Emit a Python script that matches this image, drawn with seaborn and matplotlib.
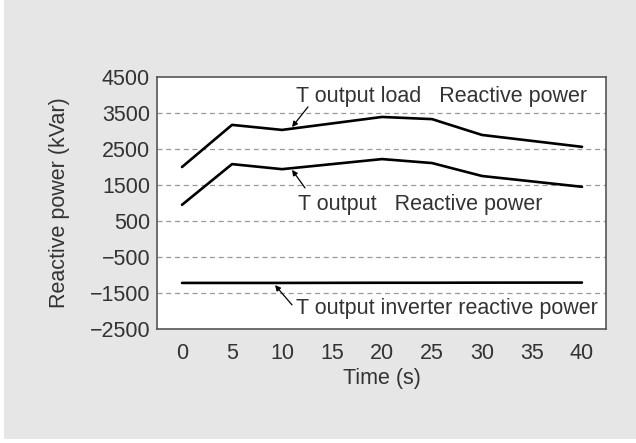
import numpy as np
import pandas as pd
import seaborn as sns
import matplotlib.pyplot as plt
from matplotlib.patches import Rectangle

time_s = [0, 5, 10, 20, 25, 30, 40]
load_q = [2000, 3170, 3030, 3390, 3330, 2890, 2560]
output_q = [950, 2080, 1940, 2220, 2110, 1750, 1450]
inverter_q = [-1220, -1220, -1220, -1215, -1215, -1212, -1210]

df = pd.DataFrame({
    "t": time_s * 3,
    "q": load_q + output_q + inverter_q,
    "series": ["load"] * 7 + ["output"] * 7 + ["inverter"] * 7,
})

sns.set_style("white")
plt.rcParams['font.family'] = ['Liberation Sans', 'DejaVu Sans']
fs = 15.5

fig = plt.figure(figsize=(6.36, 4.43), dpi=100, facecolor="white")
fig.patches.append(Rectangle((4 / 636, 0.01), 1, 1, transform=fig.transFigure,
                             facecolor="#e6e6e6", edgecolor="none", zorder=-1))
ax = fig.add_axes([0.2469, 0.2573, 0.7059, 0.5689])

sns.lineplot(data=df, x="t", y="q", units="series", estimator=None,
             color="black", linewidth=1.9, ax=ax, legend=False)

ax.set_xlim(-2.5, 42.4)
ax.set_ylim(-2500, 4500)
ax.set_yticks(np.arange(-2500, 4501, 1000))
ax.set_xticks(np.arange(0, 41, 5))
ax.set_xticks(np.arange(2.5, 40, 5), minor=True)
ax.tick_params(axis="x", which="major", length=0, labelsize=fs, colors="#333333", pad=10)
ax.tick_params(axis="x", which="minor", direction="in", length=6, width=1, color="#555555")
ax.tick_params(axis="y", length=0, labelsize=fs, colors="#333333", pad=5)
for y in np.arange(-1500, 3501, 1000):
    ax.axhline(y, color="#999999", linestyle=(0, (4, 3)), linewidth=0.9, zorder=0)
for s in ax.spines.values():
    s.set_color("#555555")
    s.set_linewidth(1.2)

ax.set_xlabel("Time (s)", fontsize=fs, color="#333333", labelpad=3)
ax.set_ylabel("Reactive power (kVar)", fontsize=fs, color="#333333", labelpad=14)

arrow = dict(arrowstyle="-|>", color="black", lw=0.9, mutation_scale=8, shrinkA=0, shrinkB=0)
ax.annotate("", xy=(11, 3110), xytext=(12.6, 3670), arrowprops=arrow)
ax.text(11.4, 3950, "T output load   Reactive power", fontsize=fs, color="#333333", va="center")
ax.annotate("", xy=(11, 1920), xytext=(12.3, 1420), arrowprops=arrow)
ax.text(11.6, 970, "T output   Reactive power", fontsize=fs, color="#333333", va="center")
ax.annotate("", xy=(9.3, -1280), xytext=(11, -1830), arrowprops=arrow)
ax.text(11.4, -1920, "T output inverter reactive power", fontsize=fs, color="#333333", va="center")

fig.savefig("out.png", dpi=100, facecolor=fig.get_facecolor())
